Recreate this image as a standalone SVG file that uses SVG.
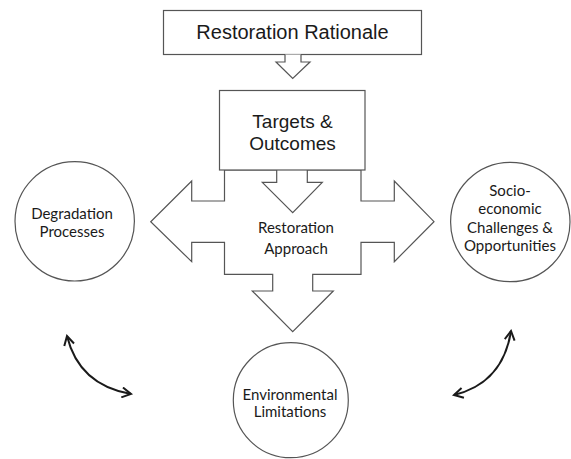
<svg xmlns="http://www.w3.org/2000/svg" width="571" height="459" viewBox="0 0 571 459">
<defs>
<style>
.shape{fill:#fff;stroke:#555;stroke-width:1.2}
.h{font-family:"Liberation Sans",Arial,sans-serif;fill:#1a1a1a;text-anchor:middle}
.c{font-family:Lato,"Open Sans",sans-serif;font-size:15px;fill:#1a1a1a;text-anchor:middle}
.link{fill:none;stroke:#1a1a1a;stroke-width:2}
</style>
<marker id="chev" viewBox="0 0 12 12" refX="10" refY="6" markerWidth="12" markerHeight="12" markerUnits="userSpaceOnUse" orient="auto-start-reverse">
<path d="M1 1 L10 6 L1 11" fill="none" stroke="#1a1a1a" stroke-width="2"/>
</marker>
</defs>
<rect width="571" height="459" fill="#fff"/>
<g id="rationale">
<rect class="shape" x="163.5" y="10.5" width="258" height="44"/>
<text class="h" x="292.5" y="39" font-size="20">Restoration Rationale</text>
</g>
<g id="connectors">
<path class="shape" d="M285 54.5 L285 62 L276 62 L292.7 78.5 L310 62 L301 62 L301 54.5"/>
<path class="link" d="M67 336 Q79 385 131 394" marker-start="url(#chev)" marker-end="url(#chev)"/>
<path class="link" d="M511 331 Q503 383 454 395" marker-start="url(#chev)" marker-end="url(#chev)"/>
</g>
<g id="approach">
<path class="shape" d="M224.5 170 L224.5 201 L191.7 201 L191.7 181 L150.7 221.7 L191.7 261.7 L191.7 242.3 L224.5 242.3 L224.5 274.3 L272.7 274.3 L272.7 291 L252.3 291 L292.7 331.7 L333.3 291 L312.7 291 L312.7 274.3 L361 274.3 L361 242.3 L394.3 242.3 L394.3 261.7 L434 221.7 L394.3 181 L394.3 201 L361 201 L361 170 Z"/>
<path class="shape" d="M276.7 169 L276.7 182.3 L262.3 182.3 L292.7 212.7 L322.3 182.3 L307.3 182.3 L307.3 169"/>
<text class="c" x="296" y="233">Restoration</text>
<text class="c" x="296" y="254">Approach</text>
</g>
<g id="targets">
<rect class="shape" x="219.5" y="90.5" width="145.5" height="79.5"/>
<text class="h" x="292.5" y="128" font-size="19">Targets &amp;</text>
<text class="h" x="292.5" y="150" font-size="19">Outcomes</text>
</g>
<g id="degradation">
<circle class="shape" cx="74.7" cy="221.3" r="59.7"/>
<text class="c" x="72" y="219">Degradation</text>
<text class="c" x="72" y="237">Processes</text>
</g>
<g id="socioeconomic">
<circle class="shape" cx="510.3" cy="222" r="59.7"/>
<text class="c" x="510" y="196">Socio-</text>
<text class="c" x="510" y="214">economic</text>
<text class="c" x="510" y="233">Challenges &amp;</text>
<text class="c" x="510" y="251">Opportunities</text>
</g>
<g id="environmental">
<circle class="shape" cx="290.8" cy="400.2" r="57.5"/>
<text class="c" x="290" y="400">Environmental</text>
<text class="c" x="290" y="417">Limitations</text>
</g>
</svg>
